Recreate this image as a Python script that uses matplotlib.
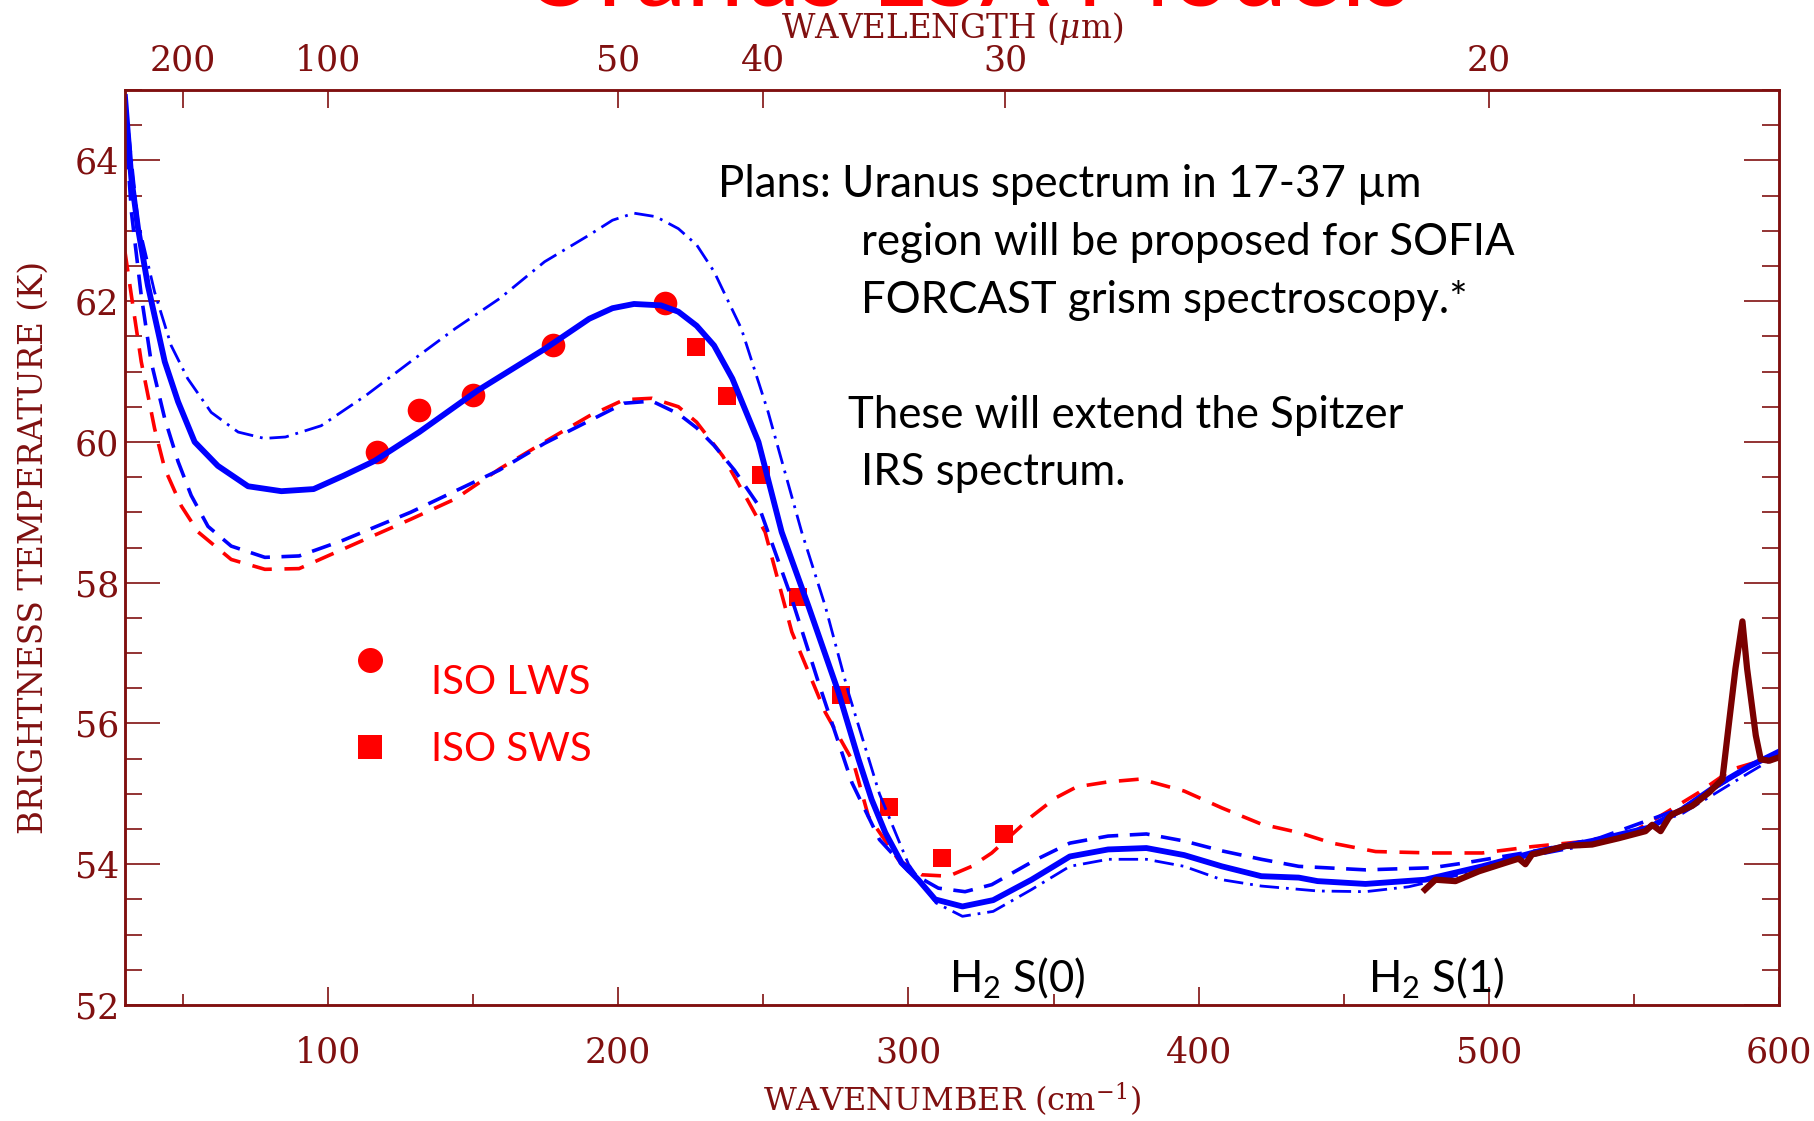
import matplotlib
matplotlib.use("Agg")
import matplotlib.pyplot as plt
from matplotlib.lines import Line2D
from matplotlib.markers import MarkerStyle
from matplotlib.transforms import Affine2D

plt.rcParams['mathtext.fontset'] = 'dejavuserif'

# model: solid blue
solid_x = [30, 32.2, 34.5, 37.9, 43.7, 48.3, 54, 62, 72.4, 83.9, 95, 105.3, 116, 131.4, 151.5,
           174.6, 190, 198, 205.4, 214.7, 220.7, 227, 233, 239.3, 248.3, 256.3, 265.5, 275.9,
           282.8, 287.3, 292, 297.6, 303.4, 309.2, 318.6, 329.2, 342.4, 355.6, 368.8, 382, 395,
           408, 421.6, 434.5, 441, 457.5, 478, 497.7, 514.9, 537.9, 555.2, 566.7, 578.2, 589.7,
           600]
solid_t = [64.9, 63.74, 63.03, 62.22, 61.14, 60.57, 60.0, 59.66, 59.37, 59.3, 59.33, 59.52, 59.73,
           60.14, 60.73, 61.32, 61.75, 61.9, 61.96, 61.94, 61.85, 61.65, 61.37, 60.9, 60.0, 58.72,
           57.67, 56.44, 55.49, 54.92, 54.45, 54.02, 53.78, 53.5, 53.4, 53.49, 53.78, 54.11,
           54.21, 54.23, 54.13, 53.97, 53.83, 53.81, 53.76, 53.72, 53.78, 53.97, 54.16, 54.35,
           54.52, 54.78, 55.11, 55.39, 55.6]

# model: dash-dot blue
dashdot_x = [30, 34.5, 40.2, 45.9, 51.6, 59.7, 69, 78, 85.3, 97.6, 113, 128.4, 143.8, 159.2,
             174.6, 190, 198, 205.4, 213, 220.7, 227, 233, 242.4, 251.6, 263.2, 271.3, 279.3,
             290, 300, 309.5, 318.6, 329.2, 342.4, 355.6, 368.8, 382, 395, 408, 421.6, 441,
             457.5, 472.4, 490, 510, 537.9, 566.7, 589.7, 600]
dashdot_t = [64.9, 63.13, 62.13, 61.37, 60.9, 60.42, 60.14, 60.05, 60.07, 60.23, 60.66, 61.14,
             61.61, 62.04, 62.56, 62.94, 63.15, 63.25, 63.2, 63.03, 62.8, 62.42, 61.61, 60.43,
             58.72, 57.67, 56.44, 55.0, 54.0, 53.45, 53.26, 53.33, 53.64, 53.97, 54.07, 54.07,
             53.97, 53.78, 53.69, 53.62, 53.61, 53.68, 53.85, 54.08, 54.3, 54.72, 55.3, 55.55]

# model: dashed blue
bdash_x = [30, 32.2, 35.6, 39, 43.7, 48.3, 52.8, 58.6, 66.6, 78.2, 90, 105, 128.4, 159, 174.6,
           190, 202, 211.6, 220.7, 227, 233, 240, 248.3, 259.8, 269, 280.5, 290, 300, 310.3,
           319.5, 328.7, 343.7, 355.6, 368.8, 382, 395, 408, 421.6, 434.5, 457.5, 480.4, 491.9,
           514.9, 537.9, 566.7, 589.7, 600]
bdash_t = [64.6, 63.27, 62.08, 61.14, 60.33, 59.72, 59.24, 58.8, 58.52, 58.36, 58.38, 58.6, 59.0,
           59.6, 59.98, 60.3, 60.55, 60.58, 60.4, 60.2, 59.95, 59.6, 59.1, 57.77, 56.58, 55.16,
           54.35, 53.9, 53.66, 53.61, 53.71, 54.06, 54.3, 54.4, 54.43, 54.33, 54.19, 54.07,
           53.97, 53.92, 53.95, 54.02, 54.18, 54.37, 54.8, 55.38, 55.6]

# model: dashed red
rdash_x = [30, 32.2, 35.6, 40.2, 43.7, 49.4, 55.2, 66.6, 78.2, 90, 113, 128.4, 143.8, 159.2,
           174.6, 190, 202, 211.6, 220.7, 227, 236, 243.8, 250.6, 259.8, 271.3, 281, 286.2, 296.6,
           304.6, 313.8, 321.8, 328.7, 342.5, 350.6, 358, 368.8, 380, 395, 408, 421.6, 434.5,
           446, 461, 480.4, 497.7, 514.9, 532, 549.4, 560.9, 572.4, 583.9, 595.4, 600]
rdash_t = [62.7, 62.08, 61.14, 60.19, 59.62, 59.09, 58.72, 58.33, 58.19, 58.2, 58.62, 58.9, 59.19,
           59.62, 60.0, 60.37, 60.6, 60.62, 60.5, 60.28, 59.8, 59.23, 58.72, 57.3, 56.16, 55.45,
           54.68, 54.06, 53.85, 53.83, 53.97, 54.16, 54.68, 54.94, 55.1, 55.17, 55.21, 55.04,
           54.8, 54.57, 54.45, 54.3, 54.18, 54.16, 54.16, 54.25, 54.32, 54.45, 54.73, 55.02,
           55.35, 55.49, 55.54]

# Spitzer IRS spectrum
irs_x = [478, 481.6, 488.5, 496.6, 505.7, 510.3, 512.6, 514.9, 517.2, 526.4, 535.6, 544.8, 554,
         556.3, 559.2, 562, 563.2, 570.1, 575.9, 580.5, 582.8, 585, 587.4, 589, 592, 593.7,
         596.6, 599.4]
irs_t = [53.64, 53.78, 53.76, 53.9, 54.02, 54.08, 54.0, 54.14, 54.16, 54.26, 54.28, 54.37, 54.47,
         54.56, 54.47, 54.66, 54.71, 54.83, 55.02, 55.21, 56.02, 56.78, 57.45, 56.78, 55.83,
         55.49, 55.47, 55.51]

# ISO points
lws_x = [116.8, 131.2, 150, 177.6, 216]
lws_t = [59.86, 60.46, 60.67, 61.38, 61.97]
sws_x = [226.8, 237.6, 249.2, 262, 276.8, 293.4, 311.7, 332.8]
sws_t = [61.35, 60.65, 59.53, 57.8, 56.4, 54.82, 54.09, 54.43]

wl_ticks = [200, 100, 50, 40, 30, 20]

axc = '#801010'
W, H = 1815, 1121

fig = plt.figure(figsize=(W / 100, H / 100), dpi=100)
ax = fig.add_axes([125 / W, 1 - 1005 / H, (1779 - 125) / W, (1005 - 90) / H])

ax.plot(lws_x, lws_t, 'o', color='#ff0000', ms=17, mew=0, zorder=2)
ax.plot(sws_x, sws_t, 's', color='#ff0000', ms=13, mew=0, zorder=2)

ax.plot(rdash_x, rdash_t, color='#ff0000', lw=2.6, dashes=(5.5, 3.5), zorder=3)
ax.plot(bdash_x, bdash_t, color='#0000ff', lw=2.6, dashes=(5.5, 3.2), zorder=3)
ax.plot(dashdot_x, dashdot_t, color='#0000ff', lw=2.0, dashes=(7, 2.5, 1, 2.5), zorder=3)
ax.plot(solid_x, solid_t, color='#0000ff', lw=4.2, zorder=4)
ax.plot(irs_x, irs_t, color='#7a0000', lw=4.5, zorder=5)

ax.set_xlim(30, 600)
ax.set_ylim(52, 65)
ax.set_xticks([100, 200, 300, 400, 500, 600])
ax.set_xticks(range(50, 600, 100), minor=True)
ax.set_yticks(range(52, 65, 2))
ax.set_yticks([52 + 0.5 * i for i in range(27)], minor=True)

for s in ax.spines.values():
    s.set_color(axc)
    s.set_linewidth(1.8)

ax.tick_params(axis='x', which='both', direction='in', top=False, bottom=True,
               color=axc, labelcolor=axc, width=1.2, labelsize=25, pad=22)
ax.tick_params(axis='x', which='major', length=13)
ax.tick_params(axis='x', which='minor', length=8)
ax.tick_params(axis='y', which='both', direction='in', left=True, right=True,
               color=axc, labelcolor=axc, width=1.2, labelsize=25, pad=4)
ax.tick_params(axis='y', which='major', length=25)
ax.tick_params(axis='y', which='minor', length=12)
for lab in ax.get_xticklabels() + ax.get_yticklabels():
    lab.set_family('DejaVu Serif')

ax.set_xlabel('WAVENUMBER (cm$^{-1}$)', family='DejaVu Serif', fontsize=23, color=axc,
              labelpad=8)
ax.set_ylabel('BRIGHTNESS TEMPERATURE (K)', family='DejaVu Serif', fontsize=23.5, color=axc,
              labelpad=18)

# wavelength axis on top
top = ax.twiny()
top.set_xlim(ax.get_xlim())
top.set_xticks([1e4 / w for w in wl_ticks])
top.set_xticklabels([str(w) for w in wl_ticks], family='DejaVu Serif')
top.tick_params(axis='x', direction='in', length=13, width=1.2, color=axc, labelcolor=axc,
                labelsize=25, pad=9)
top.set_xlabel(r'WAVELENGTH ($\mu$m)', family='DejaVu Serif', fontsize=23.5, color=axc,
               labelpad=4)
for s in top.spines.values():
    s.set_color(axc)
    s.set_linewidth(1.8)

# legend (the circle key sits a little above its label, as in the original)
circle_key = MarkerStyle('o', transform=Affine2D().translate(0, 0.8))
handles = [Line2D([], [], ls='none', marker=circle_key, ms=18, color='#ff0000', mew=0),
           Line2D([], [], ls='none', marker='s', ms=17, color='#ff0000', mew=0)]
fig.legend(handles, ['ISO LWS', 'ISO SWS'], loc='center left',
           bbox_to_anchor=(330 / W, 1 - 716 / H), frameon=False, borderpad=0,
           handlelength=1.0, handletextpad=1.0, labelspacing=0.75,
           prop={'family': 'Lato', 'size': 29}, labelcolor='#ff0000')

# annotations
tf = dict(family='Lato', fontsize=31.5, color='black', va='baseline', ha='left')
fig.text(718 / W, 1 - 197 / H, 'Plans: Uranus spectrum in 17-37 µm', **tf)
fig.text(861 / W, 1 - 255 / H, 'region will be proposed for SOFIA', **tf)
fig.text(861 / W, 1 - 313 / H, 'FORCAST grism spectroscopy.*', **tf)
fig.text(848 / W, 1 - 428 / H, 'These will extend the Spitzer', **tf)
fig.text(861 / W, 1 - 485 / H, 'IRS spectrum.', **tf)
fig.text(949 / W, 1 - 992 / H, r'H$_\mathregular{2}$ S(0)', **tf)
fig.text(1368 / W, 1 - 992 / H, r'H$_\mathregular{2}$ S(1)', **tf)

# title, cut off at the top edge
fig.text(966 / W, 1 - 5 / H, 'Uranus LSA Models', family='Lato', fontsize=74,
         color='#ff0000', ha='center', va='baseline')

fig.savefig('out.png', dpi=100)
